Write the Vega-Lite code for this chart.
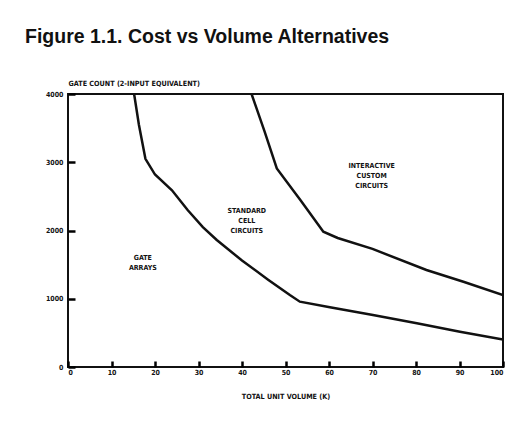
{
  "$schema": "https://vega.github.io/schema/vega-lite/v6.json",
  "width": 435,
  "height": 273,
  "autosize": {"type": "none"},
  "padding": {"left": 68, "top": 94, "right": 29, "bottom": 68},
  "background": "white",
  "title": {
    "text": "Figure 1.1. Cost vs Volume Alternatives",
    "anchor": "start",
    "frame": "group",
    "dx": -43,
    "dy": -28,
    "font": "Liberation Sans, Arial, sans-serif",
    "fontSize": 19.5,
    "fontWeight": "bold",
    "color": "#111"
  },
  "config": {
    "view": {"stroke": "#111", "strokeWidth": 2},
    "axis": {
      "labelFont": "Liberation Sans Narrow, DejaVu Sans Condensed, sans-serif",
      "titleFont": "Liberation Sans Narrow, DejaVu Sans Condensed, sans-serif",
      "labelFontWeight": "bold",
      "titleFontWeight": "bold",
      "labelFontSize": 7,
      "titleFontSize": 7.2,
      "labelColor": "#111",
      "titleColor": "#111",
      "tickColor": "#000",
      "tickWidth": 2.5,
      "domain": false,
      "grid": false
    }
  },
  "data": {
    "values": [
      {"series": "A", "ord": 1, "volume": 15.2, "gates": 4000},
      {"series": "A", "ord": 2, "volume": 16.3, "gates": 3550},
      {"series": "A", "ord": 3, "volume": 17.8, "gates": 3050},
      {"series": "A", "ord": 4, "volume": 20, "gates": 2820},
      {"series": "A", "ord": 5, "volume": 23.9, "gates": 2590},
      {"series": "A", "ord": 6, "volume": 27.5, "gates": 2300},
      {"series": "A", "ord": 7, "volume": 31, "gates": 2050},
      {"series": "A", "ord": 8, "volume": 34.2, "gates": 1861},
      {"series": "A", "ord": 9, "volume": 40, "gates": 1560},
      {"series": "A", "ord": 10, "volume": 46, "gates": 1280},
      {"series": "A", "ord": 11, "volume": 51, "gates": 1055},
      {"series": "A", "ord": 12, "volume": 53.3, "gates": 957},
      {"series": "A", "ord": 13, "volume": 60.2, "gates": 874},
      {"series": "A", "ord": 14, "volume": 70.1, "gates": 762},
      {"series": "A", "ord": 15, "volume": 80.2, "gates": 640},
      {"series": "A", "ord": 16, "volume": 90.1, "gates": 517},
      {"series": "A", "ord": 17, "volume": 100, "gates": 404},
      {"series": "B", "ord": 1, "volume": 42.2, "gates": 4000},
      {"series": "B", "ord": 2, "volume": 45.2, "gates": 3450},
      {"series": "B", "ord": 3, "volume": 48, "gates": 2910},
      {"series": "B", "ord": 4, "volume": 53.5, "gates": 2440},
      {"series": "B", "ord": 5, "volume": 58.7, "gates": 1983},
      {"series": "B", "ord": 6, "volume": 62, "gates": 1890},
      {"series": "B", "ord": 7, "volume": 70, "gates": 1730},
      {"series": "B", "ord": 8, "volume": 82.4, "gates": 1421},
      {"series": "B", "ord": 9, "volume": 90.9, "gates": 1250},
      {"series": "B", "ord": 10, "volume": 100, "gates": 1055}
    ]
  },
  "layer": [
    {
      "mark": {"type": "line", "color": "#111", "strokeWidth": 2.5, "clip": true},
      "encoding": {
        "x": {
          "field": "volume",
          "type": "quantitative",
          "scale": {"domain": [0, 100], "nice": false},
          "axis": {
            "values": [0, 10, 20, 30, 40, 50, 60, 70, 80, 90, 100],
            "offset": -6,
            "tickSize": 6,
            "labelPadding": 7,
            "labelBaseline": "alphabetic",
            "title": "TOTAL UNIT VOLUME (K)",
            "titleY": 37,
            "titleBaseline": "alphabetic"
          }
        },
        "y": {
          "field": "gates",
          "type": "quantitative",
          "scale": {"domain": [0, 4000], "nice": false},
          "axis": {
            "values": [0, 1000, 2000, 3000, 4000],
            "format": "d",
            "offset": -7,
            "tickSize": 7,
            "labelPadding": 5,
            "title": "GATE COUNT (2-INPUT EQUIVALENT)",
            "titleAngle": 0,
            "titleAlign": "left",
            "titleBaseline": "alphabetic",
            "titleX": -7,
            "titleY": -9
          }
        },
        "detail": {"field": "series"},
        "order": {"field": "ord"}
      }
    },
    {
      "data": {
        "values": [
          {"label": "GATE\nARRAYS", "volume": 17.2, "gates": 1600},
          {"label": "STANDARD\nCELL\nCIRCUITS", "volume": 41.1, "gates": 2290},
          {"label": "INTERACTIVE\nCUSTOM\nCIRCUITS", "volume": 69.8, "gates": 2945}
        ]
      },
      "mark": {
        "type": "text",
        "lineBreak": "\n",
        "lineHeight": 10,
        "font": "Liberation Sans Narrow, DejaVu Sans Condensed, sans-serif",
        "fontWeight": "bold",
        "fontSize": 7,
        "color": "#111",
        "align": "center",
        "baseline": "middle"
      },
      "encoding": {
        "x": {"field": "volume", "type": "quantitative"},
        "y": {"field": "gates", "type": "quantitative"},
        "text": {"field": "label"}
      }
    }
  ]
}
